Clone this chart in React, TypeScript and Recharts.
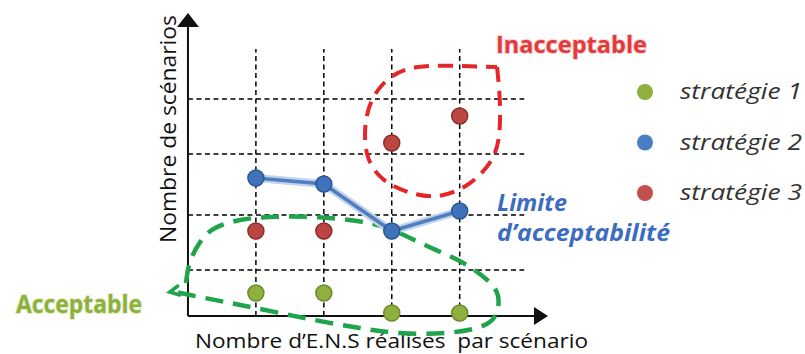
import {
  ComposedChart,
  Line,
  XAxis,
  YAxis,
  ReferenceLine,
  ReferenceDot,
  Legend,
  Customized,
} from 'recharts';

// x positions of the scenarios on the horizontal axis
const categories = [1, 2, 3, 4];

// number of scenarios per strategy (arbitrary units)
const strategie1 = [2.3, 2.3, 0.3, 0.3];
const strategie2 = [13.8, 13.2, 8.5, 10.5];
const strategie3 = [8.5, 8.5, 17.3, 20.0];

const seriesNames = ['stratégie 1', 'stratégie 2', 'stratégie 3'];

// dashed grid
const gridY = [4.6, 10.1, 16.2, 21.7];
const gridXEnd = 4.95;
const gridYEnd = 26.7;

// "Inacceptable" zone outline
const redZoneX = [4.55, 4.59, 4.58, 4.45, 4.11, 3.67, 3.24, 2.87, 2.65, 2.61, 2.71, 2.97, 3.39, 4.01, 4.55];
const redZoneY = [24.9, 21.6, 18.1, 15.4, 13.1, 12.0, 12.4, 13.7, 15.9, 18.8, 21.6, 23.8, 24.9, 25.0, 24.9];

// "Acceptable" zone outline (open, ends with an arrow)
const greenZoneX = [-0.03, 0.03, 0.18, 0.4, 0.77, 1.21, 1.84, 2.49, 2.97, 3.52, 4.0, 4.37, 4.56, 4.53, 4.3, 3.78, 3.12, 2.53, 1.94, 1.35, 0.77, 0.25, -0.18];
const greenZoneY = [3.3, 5.4, 7.4, 8.8, 9.6, 9.9, 9.9, 9.5, 8.7, 7.0, 5.5, 3.8, 2.1, 0.1, -1.1, -1.7, -1.7, -1.2, -0.5, 0.3, 1.1, 1.8, 2.4];

const COLORS = {
  green: '#8fb03e',
  greenEdge: '#6b8a2b',
  blue: '#3f72b8',
  blueEdge: '#2b5794',
  blueLine: '#4f7fc0',
  red: '#bb4541',
  redEdge: '#8c2f2c',
};

const legendColors = [COLORS.green, '#4a7ec2', '#c0504d'];

const toPoints = (xs: number[], ys: number[]) => xs.map((x, i) => ({ x, y: ys[i] }));

const s1 = toPoints(categories, strategie1);
const s2 = toPoints(categories, strategie2);
const s3 = toPoints(categories, strategie3);
const redZone = toPoints(redZoneX, redZoneY);
const greenZone = toPoints(greenZoneX, greenZoneY);

const FONT = '"Open Sans", Arial, sans-serif';

const XArrow = (props: any) => {
  const { cx, cy } = props;
  return <polygon points={`${cx},${cy} ${cx - 14},${cy - 9} ${cx - 14},${cy + 9}`} fill="#111" />;
};

const YArrow = (props: any) => {
  const { cx, cy } = props;
  return <polygon points={`${cx},${cy} ${cx - 11},${cy + 14} ${cx + 11},${cy + 14}`} fill="#111" />;
};

const GreenArrow = (props: any) => {
  const { cx, cy } = props;
  return (
    <path
      d={`M${cx + 2},${cy - 6} L${cx - 6},${cy} L${cx + 4},${cy + 3}`}
      fill="none"
      stroke="#1fa34b"
      strokeWidth={3.5}
      strokeLinecap="round"
    />
  );
};

const renderLegend = () => (
  <svg width={170} height={160}>
    {seriesNames.map((name, i) => (
      <g key={name}>
        <circle cx={9} cy={14 + i * 50.5} r={8} fill={legendColors[i]} />
        <text
          x={44}
          y={21 + i * 50.5}
          fontFamily={FONT}
          fontStyle="italic"
          fontSize={21}
          fill="#333"
          textLength={122}
          lengthAdjust="spacingAndGlyphs"
        >
          {name}
        </text>
      </g>
    ))}
  </svg>
);

const Annotations = () => (
  <g fontFamily={FONT}>
    <text
      x={496}
      y={53}
      fontSize={24}
      fontWeight="bold"
      fill="#e23b3b"
      stroke="#fbd3d3"
      strokeWidth={2}
      paintOrder="stroke"
      textLength={151}
      lengthAdjust="spacingAndGlyphs"
    >
      Inacceptable
    </text>
    <text
      x={497}
      y={211}
      fontSize={23}
      fontWeight="bold"
      fontStyle="italic"
      fill="#3b6cc0"
      textLength={70}
      lengthAdjust="spacingAndGlyphs"
    >
      Limite
    </text>
    <text
      x={497}
      y={241}
      fontSize={23}
      fontWeight="bold"
      fontStyle="italic"
      fill="#3b6cc0"
      textLength={173}
      lengthAdjust="spacingAndGlyphs"
    >
      d’acceptabilité
    </text>
    <text
      x={16}
      y={313}
      fontSize={25}
      fontWeight="bold"
      fill="#8db040"
      stroke="#e3efc8"
      strokeWidth={2}
      paintOrder="stroke"
      textLength={126}
      lengthAdjust="spacingAndGlyphs"
    >
      Acceptable
    </text>
    <text
      x={195}
      y={348}
      fontSize={20}
      fill="#111"
      textLength={393}
      lengthAdjust="spacingAndGlyphs"
      style={{ whiteSpace: 'pre' }}
    >
      Nombre d’E.N.S réalisés  par scénario
    </text>
    <text
      transform="translate(176,243) rotate(-90)"
      fontSize={21}
      fill="#111"
      textLength={228}
      lengthAdjust="spacingAndGlyphs"
    >
      Nombre de scénarios
    </text>
  </g>
);

export default function App() {
  return (
    <div style={{ position: 'absolute', left: 0, top: 0, background: '#fff' }}>
      <ComposedChart width={805} height={354} margin={{ top: 13, right: 257, bottom: 8, left: 154 }}>
        <XAxis type="number" dataKey="x" domain={[-0.5, 5.3]} hide allowDataOverflow />
        <YAxis type="number" dataKey="y" domain={[-3, 30.3]} hide allowDataOverflow />

        {gridY.map((v) => (
          <ReferenceLine
            key={`gy-${v}`}
            segment={[{ x: 0, y: v }, { x: gridXEnd, y: v }]}
            stroke="#000"
            strokeWidth={1.5}
            strokeDasharray="5 3.5"
          />
        ))}
        {categories.map((c) => (
          <ReferenceLine
            key={`gx-${c}`}
            segment={[{ x: c, y: 0 }, { x: c, y: gridYEnd }]}
            stroke="#000"
            strokeWidth={1.5}
            strokeDasharray="5 3.5"
          />
        ))}

        <ReferenceLine segment={[{ x: 0, y: 0 }, { x: 5.15, y: 0 }]} stroke="#111" strokeWidth={2} />
        <ReferenceLine segment={[{ x: 0, y: 0 }, { x: 0, y: 29 }]} stroke="#111" strokeWidth={2} />
        <ReferenceDot x={5.3} y={0} r={0} shape={XArrow} />
        <ReferenceDot x={0} y={30.3} r={0} shape={YArrow} />

        <Line
          data={redZone}
          dataKey="y"
          type="natural"
          stroke="#e4262b"
          strokeWidth={4}
          strokeDasharray="15 9"
          dot={false}
          activeDot={false}
          legendType="none"
          isAnimationActive={false}
        />
        <Line
          data={greenZone}
          dataKey="y"
          type="natural"
          stroke="#1fa34b"
          strokeWidth={4.5}
          strokeDasharray="18 10"
          dot={false}
          activeDot={false}
          legendType="none"
          isAnimationActive={false}
        />
        <ReferenceDot x={greenZoneX[greenZoneX.length - 1]} y={greenZoneY[greenZoneY.length - 1]} r={0} shape={GreenArrow} />

        <Line
          name={seriesNames[0]}
          data={s1}
          dataKey="y"
          stroke="none"
          dot={{ r: 8, fill: COLORS.green, stroke: COLORS.greenEdge, strokeWidth: 1.5 }}
          activeDot={false}
          isAnimationActive={false}
        />
        {/* soft halo under the limit line */}
        <Line
          data={s2}
          dataKey="y"
          stroke="#c3d3ea"
          strokeWidth={8}
          dot={false}
          activeDot={false}
          legendType="none"
          isAnimationActive={false}
        />
        <Line
          name={seriesNames[1]}
          data={s2}
          dataKey="y"
          stroke={COLORS.blueLine}
          strokeWidth={3.5}
          dot={{ r: 8, fill: COLORS.blue, stroke: COLORS.blueEdge, strokeWidth: 1.5 }}
          activeDot={false}
          isAnimationActive={false}
        />
        <Line
          name={seriesNames[2]}
          data={s3}
          dataKey="y"
          stroke="none"
          dot={{ r: 8, fill: COLORS.red, stroke: COLORS.redEdge, strokeWidth: 1.5 }}
          activeDot={false}
          isAnimationActive={false}
        />

        <Legend
          layout="vertical"
          align="center"
          verticalAlign="middle"
          content={renderLegend}
          wrapperStyle={{ position: 'absolute', left: 636, top: 78, width: 170, height: 160 }}
        />
        <Customized component={Annotations} />
      </ComposedChart>
    </div>
  );
}
